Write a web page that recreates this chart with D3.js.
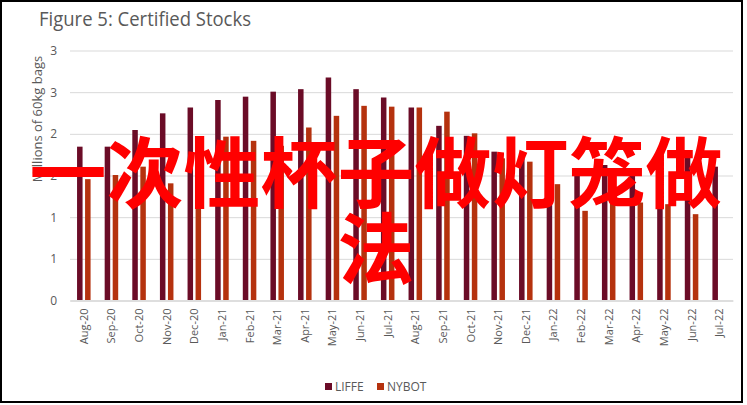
<!DOCTYPE html>
<html>
<head>
<meta charset="utf-8">
<script src="https://cdn.jsdelivr.net/npm/d3@7"></script>
<style>
  body { margin: 0; background: #fff; }
  svg { display: block; }
  .tick text { fill: #595959; }
</style>
</head>
<body>
<svg id="chart" width="747" height="405"></svg>
<script>
const months = ['Aug-20', 'Sep-20', 'Oct-20', 'Nov-20', 'Dec-20', 'Jan-21', 'Feb-21', 'Mar-21',
  'Apr-21', 'May-21', 'Jun-21', 'Jul-21', 'Aug-21', 'Sep-21', 'Oct-21', 'Nov-21', 'Dec-21',
  'Jan-22', 'Feb-22', 'Mar-22', 'Apr-22', 'May-22', 'Jun-22', 'Jul-22'];
const liffe = [1.84, 1.84, 2.04, 2.24, 2.31, 2.40, 2.44, 2.50, 2.53, 2.67, 2.53, 2.43,
  2.31, 2.09, 1.97, 1.78, 1.72, 1.70, 1.52, 1.62, 1.55, 1.62, 1.72, 1.60];
const nybot = [1.45, 1.50, 1.60, 1.40, 1.60, 1.96, 1.91, 1.85, 2.07, 2.21, 2.33, 2.32,
  2.31, 2.26, 2.00, 1.70, 1.66, 1.39, 1.07, 1.17, 1.17, 1.15, 1.03, 0];
const seriesNames = ['LIFFE', 'NYBOT'];
const yTicks = [0, 0.5, 1, 1.5, 2, 2.5, 3];
const yTickLabels = ['0', '1', '1', '2', '2', '3', '3'];
const overlayLines = ['一次性杯子做灯笼做', '法'];

const colors = {LIFFE: '#6b0c27', NYBOT: '#b5320e'};
const grey = '#595959';

const svg = d3.select('#chart');

// frame
svg.append('rect')
  .attr('x', 1).attr('y', 1)
  .attr('width', 741).attr('height', 401)
  .attr('fill', 'none')
  .attr('stroke', '#000')
  .attr('stroke-width', 2);

svg.append('text')
  .attr('x', 39).attr('y', 26)
  .attr('fill', grey)
  .attr('font-family', 'Open Sans, sans-serif')
  .attr('font-size', 20)
  .attr('textLength', 212)
  .attr('lengthAdjust', 'spacingAndGlyphs')
  .text('Figure 5: Certified Stocks');

const plot = {left: 70, right: 733, top: 50, bottom: 300};

const x0 = d3.scaleBand().domain(months).range([plot.left, plot.right]);
const x1 = d3.scaleBand().domain(seriesNames)
  .range([0, x0.bandwidth()])
  .paddingInner(0.3125)
  .paddingOuter(0.88);
const y = d3.scaleLinear().domain([0, 3]).range([plot.bottom, plot.top]);

// grid + y labels
const yAxis = d3.axisLeft(y)
  .tickValues(yTicks)
  .tickFormat((d, i) => yTickLabels[i])
  .tickSize(-(plot.right - plot.left))
  .tickPadding(13);

const gy = svg.append('g')
  .attr('transform', `translate(${plot.left},0.5)`)
  .call(yAxis);
gy.select('.domain').remove();
gy.selectAll('.tick line').attr('stroke', '#d9d9d9');
gy.selectAll('.tick text')
  .attr('font-family', 'Open Sans, sans-serif')
  .attr('font-size', 12);

svg.append('text')
  .attr('transform', 'translate(42,119) rotate(-90)')
  .attr('text-anchor', 'middle')
  .attr('fill', grey)
  .attr('font-family', 'Open Sans, sans-serif')
  .attr('font-size', 13)
  .text('Millions of 60kg bags');

// bars
const rows = months.map((m, i) => ({month: m, values: [
  {key: 'LIFFE', value: liffe[i]},
  {key: 'NYBOT', value: nybot[i]}
]}));

svg.append('g')
  .selectAll('g')
  .data(rows)
  .join('g')
    .attr('transform', d => `translate(${x0(d.month)},0)`)
  .selectAll('rect')
  .data(d => d.values.filter(v => v.value > 0))
  .join('rect')
    .attr('x', d => x1(d.key))
    .attr('width', x1.bandwidth())
    .attr('y', d => y(d.value))
    .attr('height', d => y(0) - y(d.value))
    .attr('fill', d => colors[d.key]);

// x axis
const xAxis = d3.axisBottom(x0).tickSize(0).tickPadding(0);
const gx = svg.append('g')
  .attr('transform', `translate(0,${plot.bottom + 0.5})`)
  .call(xAxis);
gx.select('.domain').attr('stroke', '#d0d0d0');
gx.selectAll('.tick text')
  .attr('font-family', 'Open Sans, sans-serif')
  .attr('font-size', 11)
  .attr('text-anchor', 'end')
  .attr('dy', null)
  .attr('transform', 'translate(4,8) rotate(-90)');

// legend
const legend = svg.append('g').attr('transform', 'translate(325,383)');
const legendX = [0, 52];
seriesNames.forEach((name, i) => {
  const g = legend.append('g').attr('transform', `translate(${legendX[i]},0)`);
  g.append('rect')
    .attr('width', 7).attr('height', 7)
    .attr('fill', colors[name]);
  g.append('text')
    .attr('x', 10).attr('y', 8)
    .attr('fill', grey)
    .attr('font-family', 'Open Sans, sans-serif')
    .attr('font-size', 12)
    .text(name);
});

// big red overlay text
svg.append('g')
  .selectAll('text')
  .data(overlayLines)
  .join('text')
    .attr('x', 376)
    .attr('y', (d, i) => 202 + i * 76)
    .attr('text-anchor', 'middle')
    .attr('fill', '#ff0000')
    .attr('font-family', 'Noto Sans CJK SC, sans-serif')
    .attr('font-weight', 700)
    .attr('font-size', 77)
    .text(d => d);
</script>
</body>
</html>
